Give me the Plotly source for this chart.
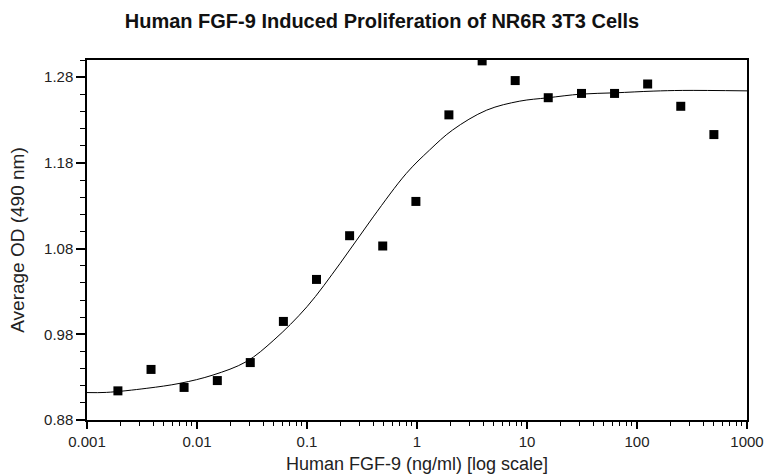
import plotly.graph_objects as go

# Measured data points
dose = [0.00191, 0.00382, 0.00763, 0.0153, 0.0305, 0.061, 0.122, 0.244, 0.488,
        0.977, 1.95, 3.91, 7.81, 15.6, 31.3, 62.5, 125, 250, 500]
od = [0.914, 0.939, 0.918, 0.926, 0.947, 0.995, 1.044, 1.095, 1.083,
      1.135, 1.236, 1.299, 1.276, 1.256, 1.261, 1.261, 1.272, 1.246, 1.213]

# Fitted curve
curve_x = [0.001, 0.0015, 0.0035, 0.007, 0.014, 0.028, 0.05, 0.1, 0.2, 0.4,
           0.8, 1.3, 2.1, 4.3, 8.6, 15.4, 31, 63, 140, 260, 1000]
curve_y = [0.912, 0.9122, 0.917, 0.9228, 0.9325, 0.948, 0.9733, 1.0122, 1.0627, 1.117,
           1.1677, 1.1949, 1.2182, 1.2415, 1.252, 1.2559, 1.2602, 1.2617, 1.2637, 1.2645, 1.264]

x_tickvals = [0.001, 0.01, 0.1, 1, 10, 100, 1000]
x_ticktext = ["0.001", "0.01", "0.1", "1", "10", "100", "1000"]
y_tickvals = [0.88, 0.98, 1.08, 1.18, 1.28]
y_ticktext = ["0.88", "0.98", "1.08", "1.18", "1.28"]
x_minor = [m * d for d in [0.001, 0.01, 0.1, 1, 10, 100] for m in range(2, 10)]

font = "Liberation Sans, Arial, sans-serif"

fig = go.Figure()
fig.add_trace(go.Scatter(x=curve_x, y=curve_y, mode="lines",
                         line=dict(color="black", width=1, shape="spline"),
                         showlegend=False, hoverinfo="skip"))
fig.add_trace(go.Scatter(x=dose, y=od, mode="markers",
                         marker=dict(symbol="square", size=9, color="black"),
                         showlegend=False))

fig.update_layout(
    width=764, height=476,
    margin=dict(l=87, r=17, t=60, b=56),
    paper_bgcolor="white", plot_bgcolor="white",
    font=dict(family=font, size=15, color="#222"),
    title=dict(text="<b>Human FGF-9 Induced Proliferation of NR6R 3T3 Cells</b>",
               x=0.5, xanchor="center", y=0.955, yanchor="middle",
               font=dict(family=font, size=20, color="#111")),
    xaxis=dict(type="log", range=[-3, 3], tickvals=x_tickvals, ticktext=x_ticktext,
               automargin=False,
               showgrid=False, zeroline=False, showline=True, linecolor="black",
               linewidth=1.5, mirror=True, ticks="outside", ticklen=7, tickwidth=1.5,
               tickcolor="black", tickfont=dict(size=15, color="#222"),
               minor=dict(ticks="outside", ticklen=4, tickwidth=1.2, tickcolor="black",
                          tickmode="array", tickvals=x_minor, showgrid=False),
               title=dict(text="Human FGF-9 (ng/ml) [log scale]", standoff=9,
                          font=dict(size=18, color="#222"))),
    yaxis=dict(range=[0.88, 1.30], tickvals=y_tickvals, ticktext=y_ticktext,
               automargin=False,
               showgrid=False, zeroline=False, showline=True, linecolor="black",
               linewidth=1.5, mirror=True, ticks="outside", ticklen=9, tickwidth=1.5,
               tickcolor="black", tickfont=dict(size=15, color="#222"),
               minor=dict(ticks="outside", ticklen=5, tickwidth=1.2, tickcolor="black",
                          dtick=0.02, tick0=0.88, showgrid=False),
               title=dict(text="Average OD (490 nm)", standoff=14,
                          font=dict(size=19, color="#222"))),
)

fig.write_html("out.html", config={"displayModeBar": False},
               post_script="document.body.style.margin='0';document.body.style.overflow='hidden';")
